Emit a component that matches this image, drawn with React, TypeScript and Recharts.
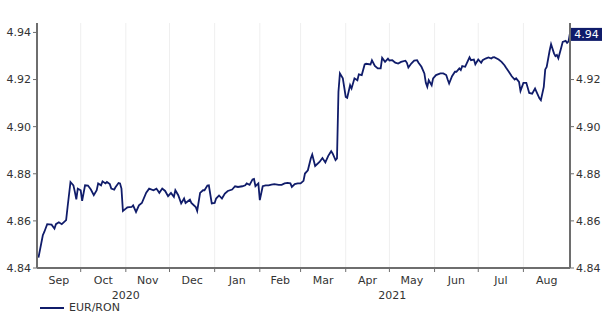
import {
  CartesianGrid,
  LabelList,
  Legend,
  Line,
  LineChart,
  XAxis,
  YAxis,
} from "recharts";

const NAVY = "#101c6a";
const AXIS = "#6e6e6e";
const TEXT = "#333333";
const FONT = "'DejaVu Sans', Verdana, sans-serif";

// days counted from 1 Sep 2020
const days = [
  1, 4, 5, 7, 10, 12, 13, 15, 17, 20, 21, 23, 25, 26, 27, 28,
  30, 31, 33, 35, 37, 39, 41, 42, 44, 45, 47, 48, 50, 51, 53, 54, 56, 57, 58, 59,
  61, 62, 65, 66, 68, 70, 72, 75, 77, 80, 82, 84, 86, 88, 90,
  92, 94, 95, 97, 99, 101, 102, 105, 106, 109, 110, 112, 114, 115, 117, 118, 120,
  122, 123, 125, 127, 129, 131, 134, 136, 138, 141, 143, 144, 146, 148, 149, 150, 152,
  153, 155, 157, 159, 161, 163, 166, 168, 170, 172, 174, 175, 177, 179,
  181, 183, 184, 186, 188, 189, 191, 194, 196, 198, 200, 202, 203, 205, 206, 207, 208, 210,
  212, 213, 215, 216, 218, 220, 221, 223, 225, 226, 229, 230, 232, 234, 236, 237, 239, 241,
  242, 244, 246, 248, 250, 253, 254, 255, 257, 259, 261, 262, 264, 266, 267, 268, 269, 271, 272,
  274, 277, 279, 281, 282, 283, 285, 287, 288, 290, 291, 292, 294, 295, 297, 298, 300, 301,
  303, 305, 306, 308, 310, 312, 313, 314, 317, 319, 321, 322, 324, 326, 328, 329, 331, 332,
  334, 336, 338, 340, 342, 343, 345, 346, 348, 349, 350, 352, 353, 355, 356, 357, 358, 360, 361, 363, 364, 365, 366,
];

const eurRon = [
  4.8444, 4.8539, 4.8553, 4.8586, 4.8584, 4.8567, 4.8586, 4.8594, 4.8586, 4.8603, 4.8659, 4.8765, 4.8751, 4.8723, 4.8691, 4.8737,
  4.873, 4.8685, 4.8751, 4.875, 4.8733, 4.8709, 4.873, 4.8759, 4.8751, 4.8768, 4.8759, 4.8765, 4.8756, 4.8737, 4.8733, 4.8744, 4.8761, 4.8759, 4.8737, 4.8642,
  4.8652, 4.8657, 4.8659, 4.8666, 4.8638, 4.8666, 4.8676, 4.872, 4.8737, 4.873, 4.8737, 4.8719, 4.8737, 4.8727, 4.8705,
  4.8719, 4.8702, 4.873, 4.8709, 4.8674, 4.8695, 4.8676, 4.869, 4.8676, 4.8659, 4.8642, 4.8719, 4.873, 4.873, 4.875, 4.8751, 4.8674,
  4.8676, 4.8695, 4.8708, 4.8695, 4.8716, 4.8727, 4.8733, 4.8747, 4.8744, 4.8747, 4.8751, 4.8759, 4.8753, 4.8776, 4.8778, 4.8747, 4.8759,
  4.8688, 4.8747, 4.8751, 4.8751, 4.8754, 4.8756, 4.8753, 4.8753, 4.8759, 4.8761, 4.8759, 4.8744, 4.8756, 4.8759,
  4.8759, 4.877, 4.8801, 4.8815, 4.8865, 4.8882, 4.8833, 4.885, 4.8867, 4.8848, 4.8876, 4.8896, 4.8886, 4.8858, 4.8865, 4.9148, 4.9226, 4.9205,
  4.9126, 4.9122, 4.9176, 4.9162, 4.9205, 4.9197, 4.9222, 4.9219, 4.9264, 4.9267, 4.9264, 4.9282, 4.9258, 4.9247, 4.9247, 4.9292, 4.9275, 4.9289,
  4.9281, 4.9282, 4.9272, 4.9268, 4.9275, 4.928, 4.9271, 4.9251, 4.9268, 4.928, 4.9282, 4.9271, 4.9254, 4.9226, 4.9186, 4.9169, 4.9197, 4.9176, 4.9205,
  4.9219, 4.9226, 4.9226, 4.9219, 4.92, 4.9183, 4.9214, 4.9233, 4.9233, 4.9247, 4.924, 4.9257, 4.9254, 4.9268, 4.9294, 4.9282, 4.9285, 4.9265,
  4.9285, 4.9271, 4.9282, 4.9289, 4.9294, 4.9289, 4.9294, 4.9295, 4.9285, 4.9275, 4.9261, 4.9251, 4.9233, 4.9214, 4.92, 4.9205, 4.919, 4.9152,
  4.9186, 4.9186, 4.9143, 4.914, 4.9162, 4.9148, 4.912, 4.9112, 4.9169, 4.9243, 4.9254, 4.9322, 4.935, 4.9311, 4.9299, 4.9304, 4.929, 4.9336, 4.936, 4.9364, 4.9356, 4.9362, 4.9398,
];

// month boundaries (days from 1 Sep 2020), month names, years
const monthStarts = [30, 61, 91, 122, 153, 181, 212, 242, 273, 303, 334];
const monthNames = ["Sep", "Oct", "Nov", "Dec", "Jan", "Feb", "Mar", "Apr", "May", "Jun", "Jul", "Aug"];
const yearNames = ["2020", "2021"];
const yTicks = [4.84, 4.86, 4.88, 4.9, 4.92, 4.94];

const X_END = 366;
const edges = [0, ...monthStarts, X_END];
const monthMids = monthNames.map((_, i) => (edges[i] + edges[i + 1]) / 2);
const yearMids = [(0 + 122) / 2, (122 + X_END) / 2];

const data = days.map((d, i) => ({ day: d, value: eurRon[i] }));
const lastValue = eurRon[eurRon.length - 1];

const tickStyle = { fontSize: 11, fill: TEXT, fontFamily: FONT };

const LastValue = (props: any) => {
  const { x, y, value, index } = props;
  if (index !== data.length - 1) return null;
  return (
    <g>
      <rect x={x + 1} y={y - 5} width={31} height={13} fill={NAVY} />
      <text
        x={x + 16.5}
        y={y + 1.5}
        textAnchor="middle"
        dominantBaseline="central"
        fill="#ffffff"
        fontSize={11}
        fontFamily={FONT}
      >
        {Number(value).toFixed(2)}
      </text>
    </g>
  );
};

const renderLegend = () => (
  <div
    style={{
      display: "flex",
      alignItems: "center",
      marginLeft: 40,
      marginTop: -3,
      fontSize: 11,
      color: TEXT,
      fontFamily: FONT,
    }}
  >
    <svg width={24} height={4}>
      <line x1={0} y1={2} x2={24} y2={2} stroke={NAVY} strokeWidth={2} />
    </svg>
    <span style={{ marginLeft: 5 }}>EUR/RON</span>
  </div>
);

export default function App() {
  return (
    <div style={{ position: "absolute", left: 0, top: 0, background: "#fff" }}>
      <LineChart
        width={606}
        height={319}
        data={data}
        margin={{ top: 23, right: 0, left: 0, bottom: 0 }}
        style={{ fontFamily: FONT }}
      >
        <CartesianGrid horizontal={false} stroke="#efefef" />
        <XAxis
          dataKey="day"
          type="number"
          domain={[0, X_END]}
          ticks={monthStarts}
          tickFormatter={() => ""}
          axisLine={{ stroke: AXIS, strokeWidth: 2 }}
          tickLine={{ stroke: AXIS }}
          tickSize={4}
          height={6}
        />
        <XAxis
          xAxisId="month"
          dataKey="day"
          type="number"
          domain={[0, X_END]}
          ticks={monthMids}
          tickFormatter={(v: number) => monthNames[monthMids.indexOf(v)]}
          axisLine={false}
          tickLine={false}
          tick={tickStyle}
          tickSize={2}
          tickMargin={0}
          height={15}
        />
        <XAxis
          xAxisId="year"
          dataKey="day"
          type="number"
          domain={[0, X_END]}
          ticks={yearMids}
          tickFormatter={(v: number) => yearNames[yearMids.indexOf(v)]}
          axisLine={false}
          tickLine={false}
          tick={tickStyle}
          tickSize={2}
          tickMargin={0}
          height={15}
        />
        <YAxis
          domain={[4.84, 4.944]}
          ticks={yTicks}
          allowDataOverflow
          tickFormatter={(v: number) => v.toFixed(2)}
          axisLine={{ stroke: AXIS, strokeWidth: 2 }}
          tickLine={{ stroke: AXIS }}
          tickSize={4}
          tickMargin={2}
          tick={tickStyle}
          width={37}
        />
        <YAxis
          yAxisId="right"
          orientation="right"
          domain={[4.84, 4.944]}
          ticks={yTicks}
          allowDataOverflow
          // the top label sits under the last-value box
          tickFormatter={(v: number) =>
            v.toFixed(2) === lastValue.toFixed(2) ? "" : v.toFixed(2)
          }
          axisLine={{ stroke: AXIS, strokeWidth: 2 }}
          tickLine={{ stroke: AXIS }}
          tickSize={4}
          tickMargin={2}
          tick={tickStyle}
          width={36}
        />
        <Legend verticalAlign="bottom" align="left" height={15} content={renderLegend} />
        <Line
          dataKey="value"
          stroke={NAVY}
          strokeWidth={1.8}
          dot={false}
          isAnimationActive={false}
        >
          <LabelList dataKey="value" content={LastValue} />
        </Line>
      </LineChart>
    </div>
  );
}
